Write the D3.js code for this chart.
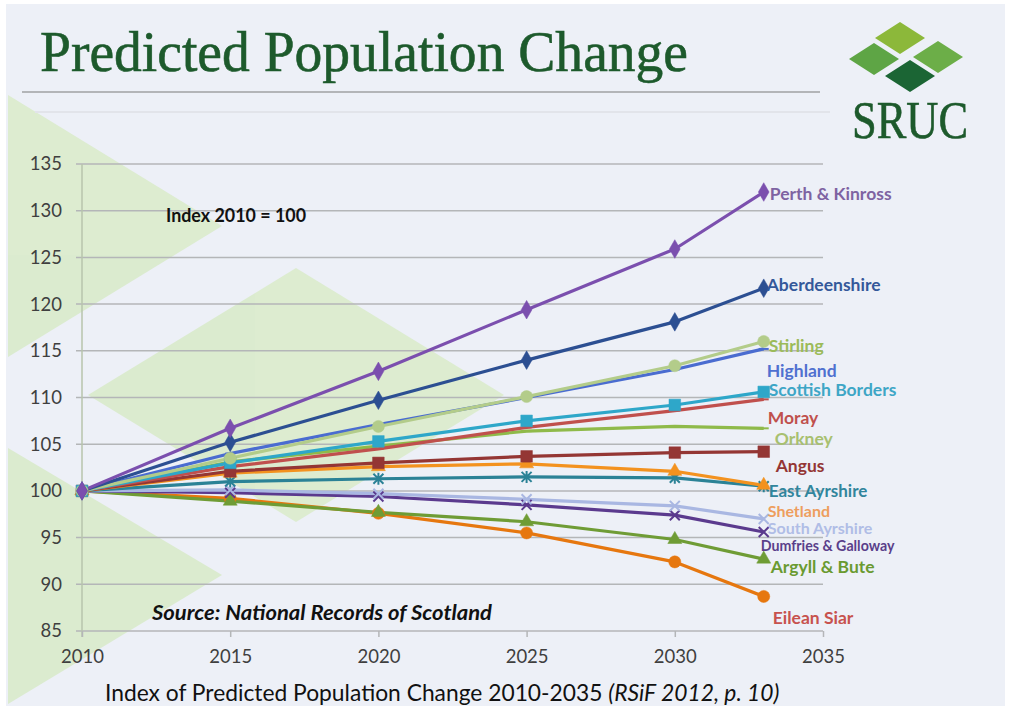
<!DOCTYPE html>
<html><head><meta charset="utf-8">
<script src="https://cdn.jsdelivr.net/npm/d3@7"></script>
<style>
html,body{margin:0;padding:0;background:#fff;}
svg{display:block;}
</style></head>
<body>
<svg id="chart" width="1011" height="710"></svg>
<script>
// ---- data ----
const years = [2010, 2015, 2020, 2025, 2030, 2033];
const xTicks = [2010, 2015, 2020, 2025, 2030, 2035];
const yTicks = [85, 90, 95, 100, 105, 110, 115, 120, 125, 130, 135];

const seriesNames = ["Perth & Kinross","Aberdeenshire","Stirling","Highland","Scottish Borders","Moray","Orkney","Angus","Shetland","East Ayrshire","South Ayrshire","Dumfries & Galloway","Argyll & Bute","Eilean Siar"];

const perth    = [100, 106.7, 112.8, 119.4, 125.9, 132.0];
const aberdeen = [100, 105.2, 109.7, 114.0, 118.1, 121.7];
const stirling = [100, 103.5, 106.9, 110.1, 113.4, 116.0];
const highland = [100, 104.0, 107.1, 110.0, 113.0, 115.2];
const borders  = [100, 103.0, 105.3, 107.5, 109.2, 110.6];
const moray    = [100, 102.6, 104.5, 106.8, 108.6, 109.8];
const orkney   = [100, 103.1, 104.8, 106.4, 106.9, 106.7];
const angus    = [100, 102.1, 103.0, 103.7, 104.1, 104.2];
const shetland = [100, 101.9, 102.6, 102.9, 102.1, 100.6];
const eastAyr  = [100, 101.0, 101.3, 101.5, 101.4, 100.5];
const southAyr = [100, 100.1, 99.7, 99.1, 98.4, 97.0];
const dumfries = [100, 99.8, 99.4, 98.5, 97.4, 95.6];
const argyll   = [100, 98.9, 97.7, 96.7, 94.8, 92.7];
const eilean   = [100, 99.2, 97.6, 95.5, 92.4, 88.7];

// label anchor (in index units) for end labels
const labelAt = [131.8, 122.1, 115.5, 112.85, 110.8, 107.8, 105.6, 102.7, 97.8, 100.0, 95.95, 94.05, 91.9, 86.4];

// ---- styles ----
const lineColors  = ["#7b4fae","#2c4f92","#b3cc8a","#4a6cd0","#2ea7c9","#c0504d","#8fba4a","#943634","#f3921f","#2b8296","#a9b7e2","#5b3a8e","#6f9c35","#e6770f"];
const labelColors = ["#7e63a2","#34589a","#9bbb59","#4f70d0","#3ea6c6","#c0504d","#a8c070","#943634","#ee9e5e","#31859c","#b0bde6","#5a3f8a","#6a9a30","#c7524e"];
const markers     = ["diamond","diamond","circle","dash","square","dash","dash","square","triangle","asterisk","x","x","triangle","circle"];
const labelDx     = [6, 3, 5, 3, 5, 4, 11, 12, 4, 5, 4, -3, 7, 9];
const labelSize   = [17.5, 17.5, 17.5, 17.5, 17.5, 17.5, 17.5, 17.5, 16, 17, 16, 14.2, 17.5, 17.5];
const allSeries = [perth, aberdeen, stirling, highland, borders, moray, orkney, angus, shetland, eastAyr, southAyr, dumfries, argyll, eilean];

const svg = d3.select("#chart");
const x = d3.scaleLinear().domain([2010, 2035]).range([82, 823]);
const y = d3.scaleLinear().domain([85, 135]).range([631, 164]);
const sans = "Lato, 'Open Sans', sans-serif";

// ---- background ----
svg.append("rect").attr("x", 6).attr("y", 4).attr("width", 999).attr("height", 702).attr("fill", "#edf0f7");
const bgG = svg.append("g").attr("fill", "#d9ebc9").attr("opacity", 0.85);
bgG.append("polygon").attr("points", "8,95 222,226 8,357");
bgG.append("polygon").attr("points", "88,395 296,268 504,395 296,522");
bgG.append("polygon").attr("points", "8,448 222,575 8,704");

// ---- title ----
svg.append("text").attr("x", 40).attr("y", 71)
  .attr("font-family", "'Liberation Serif', 'DejaVu Serif', serif")
  .attr("font-size", 58).attr("fill", "#1d5a2c")
  .attr("stroke", "#1d5a2c").attr("stroke-width", 0.6)
  .attr("textLength", 648).attr("lengthAdjust", "spacingAndGlyphs")
  .text("Predicted Population Change");
svg.append("line").attr("x1", 22).attr("x2", 820).attr("y1", 92).attr("y2", 92).attr("stroke", "#b3b5b8").attr("stroke-width", 2);
svg.append("line").attr("x1", 35).attr("x2", 830).attr("y1", 112).attr("y2", 112).attr("stroke", "#e2e4ea").attr("stroke-width", 2);

// ---- logo ----
const logo = svg.append("g");
const diamonds = [[900,38,"#8cb83a"],[874,59,"#5ea545"],[938,57,"#6cae48"],[910,76,"#1b6534"]];
diamonds.forEach(d => {
  logo.append("polygon")
    .attr("points", `${d[0]-25},${d[1]} ${d[0]},${d[1]-16} ${d[0]+25},${d[1]} ${d[0]},${d[1]+16}`)
    .attr("fill", d[2]);
});
svg.append("text").attr("x", 852).attr("y", 138)
  .attr("font-family", "'Liberation Serif', 'DejaVu Serif', serif")
  .attr("font-size", 52).attr("fill", "#1d5a2c")
  .attr("stroke", "#1d5a2c").attr("stroke-width", 0.6)
  .attr("textLength", 116).attr("lengthAdjust", "spacingAndGlyphs")
  .text("SRUC");

// ---- grid & axes ----
const grid = svg.append("g");
grid.selectAll("line").data(yTicks).join("line")
  .attr("x1", x(2010) - 6).attr("x2", x(2035))
  .attr("y1", d => y(d)).attr("y2", d => y(d))
  .attr("stroke", "#b4b6b8").attr("stroke-width", 1.5);
svg.append("line").attr("x1", x(2010)).attr("x2", x(2010)).attr("y1", y(135)).attr("y2", y(85) + 6)
  .attr("stroke", "#b7c5ad").attr("stroke-width", 1.5);

const yAxis = d3.axisLeft(y).tickValues(yTicks).tickSize(0).tickPadding(20);
const gy = svg.append("g").attr("transform", `translate(${x(2010)},0)`).call(yAxis);
gy.select(".domain").remove();
gy.selectAll("text").attr("font-family", sans).attr("font-size", 18.5).attr("fill", "#3f3f3f");

const xAxis = d3.axisBottom(x).tickValues(xTicks).tickFormat(d3.format("d")).tickSize(6).tickPadding(13);
const gx = svg.append("g").attr("transform", `translate(0,${y(85)})`).call(xAxis);
gx.select(".domain").remove();
gx.selectAll("line").attr("stroke", "#b4b6b8").attr("stroke-width", 1.5);
gx.selectAll("text").attr("font-family", sans).attr("font-size", 18.5).attr("fill", "#3f3f3f");

// ---- annotations ----
svg.append("text").attr("x", 166).attr("y", 222)
  .attr("font-family", sans).attr("font-weight", "bold")
  .attr("font-size", 18).attr("fill", "#111")
  .attr("textLength", 140).attr("lengthAdjust", "spacingAndGlyphs")
  .text("Index 2010 = 100");
svg.append("text").attr("x", 152).attr("y", 620)
  .attr("font-family", sans).attr("font-weight", "bold").attr("font-style", "italic")
  .attr("font-size", 20).attr("fill", "#111")
  .attr("textLength", 340).attr("lengthAdjust", "spacingAndGlyphs")
  .text("Source: National Records of Scotland");
const cap = svg.append("text").attr("x", 105).attr("y", 701)
  .attr("font-family", sans).attr("font-size", 22.8).attr("fill", "#111");
cap.append("tspan").text("Index of Predicted Population Change 2010-2035 ");
cap.append("tspan").attr("font-style", "italic").text("(RSiF 2012, p. 10)");

// ---- lines ----
const line = d3.line().x((d, i) => x(years[i])).y(d => y(d));
const linesG = svg.append("g");
const order = d3.range(allSeries.length).reverse();
order.forEach(s => {
  linesG.append("path").attr("d", line(allSeries[s]))
    .attr("fill", "none").attr("stroke", lineColors[s]).attr("stroke-width", 3.2)
    .attr("stroke-linejoin", "round");
});

// ---- markers ----
function markerPath(type) {
  switch (type) {
    case "diamond": return d3.symbol(d3.symbolDiamond, 100)();
    case "circle": return d3.symbol(d3.symbolCircle, 115)();
    case "square": return d3.symbol(d3.symbolSquare, 135)();
    case "triangle": return d3.symbol(d3.symbolTriangle, 85)();
    case "x": return "M-5,-5L5,5M-5,5L5,-5";
    case "asterisk": return "M-5,-5L5,5M-5,5L5,-5M0,-6L0,6";
    case "dash": return "M-5,0L5,0";
    default: return "";
  }
}
order.forEach(s => {
  const t = markers[s];
  const stroked = (t === "x" || t === "asterisk" || t === "dash");
  linesG.append("g").selectAll("path").data(allSeries[s]).join("path")
    .attr("transform", (d, i) => `translate(${x(years[i])},${y(d)})`)
    .attr("d", markerPath(t))
    .attr("fill", stroked ? "none" : lineColors[s])
    .attr("stroke", lineColors[s])
    .attr("stroke-width", stroked ? 2 : 0.5);
});

// ---- end labels ----
const lastYear = years[years.length - 1];
svg.append("g").selectAll("text").data(seriesNames).join("text")
  .attr("x", (d, i) => x(lastYear) + labelDx[i])
  .attr("y", (d, i) => y(labelAt[i]))
  .attr("dy", "0.35em")
  .attr("font-family", sans).attr("font-weight", "bold")
  .attr("font-size", (d, i) => labelSize[i])
  .attr("fill", (d, i) => labelColors[i])
  .text(d => d);
</script>
</body></html>
